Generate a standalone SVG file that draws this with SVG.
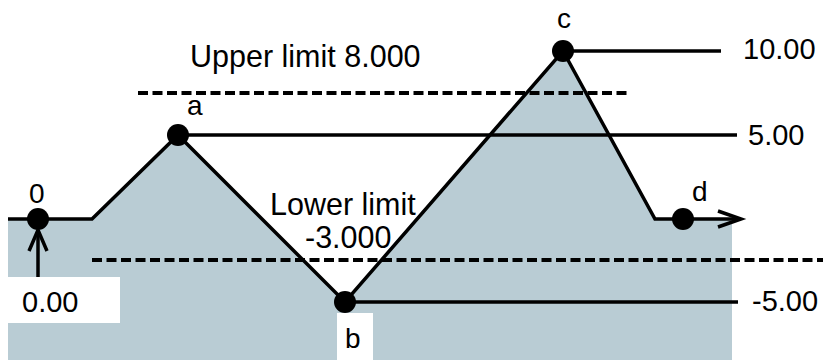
<svg xmlns="http://www.w3.org/2000/svg" width="823" height="360" viewBox="0 0 823 360">
<defs>
<style>
text{font-family:"Liberation Sans",Arial,sans-serif;font-size:28px;fill:#000}
.lim{font-size:30.5px}
.val{font-size:29px}
.ln{fill:none;stroke:#000;stroke-width:3.5;stroke-linejoin:miter}
.dash{fill:none;stroke:#000;stroke-width:4;stroke-dasharray:10 4.5}
.dot{fill:#000}
.box{fill:#fff}
</style>
</defs>
<rect width="823" height="360" fill="#fff"/>
<polygon id="area" points="8,219 92,219 178,135 345,302 563,51 655,219 732,219 732,360 8,360" fill="#b9ccd4"/>
<g id="limits">
<line class="dash" x1="138" y1="93" x2="630" y2="93"/>
<line class="dash" x1="92" y1="260" x2="823" y2="260"/>
<text class="lim" x="190" y="67">Upper limit 8.000</text>
<text class="lim" x="270" y="215">Lower limit</text>
<text class="lim" x="305" y="248">-3.000</text>
</g>
<g id="connectors">
<polyline class="ln" points="8,219 92,219 178,135 345,302 563,51 655,219 741,219"/>
<polyline class="ln" points="718,211 741,219 718,227"/>
<line class="ln" x1="178" y1="135" x2="737" y2="135"/>
<line class="ln" x1="563" y1="51" x2="721" y2="51"/>
<line class="ln" x1="345" y1="302" x2="738" y2="302"/>
<line class="ln" x1="38" y1="277" x2="38" y2="231"/>
<polyline class="ln" points="29,251 38,230 47,251"/>
</g>
<g id="node-0">
<circle class="dot" cx="38" cy="219" r="11"/>
<text x="29" y="203">0</text>
</g>
<g id="node-0-value">
<rect class="box" x="8" y="277" width="112" height="46"/>
<text class="val" x="22" y="312">0.00</text>
</g>
<g id="node-a">
<circle class="dot" cx="178" cy="135" r="11"/>
<text x="187" y="115">a</text>
</g>
<g id="node-b">
<rect class="box" x="337" y="313" width="36" height="47"/>
<circle class="dot" cx="345" cy="302" r="11"/>
<text x="345" y="348">b</text>
</g>
<g id="node-c">
<circle class="dot" cx="563" cy="51" r="11"/>
<text x="557" y="28">c</text>
</g>
<g id="node-d">
<circle class="dot" cx="683" cy="219" r="11"/>
<text x="692" y="201">d</text>
</g>
<g id="values">
<text class="val" x="743" y="59">10.00</text>
<text class="val" x="748" y="145">5.00</text>
<text class="val" x="752" y="311">-5.00</text>
</g>
</svg>
